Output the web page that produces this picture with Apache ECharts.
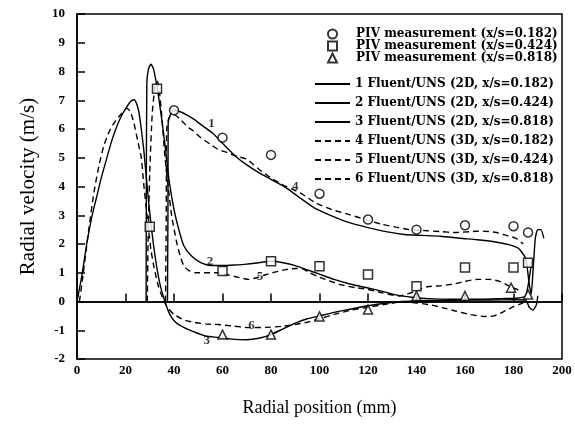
<!DOCTYPE html>
<html>
<head>
<meta charset="utf-8">
<script src="https://cdn.jsdelivr.net/npm/echarts@6/dist/echarts.min.js"></script>
<style>
  html, body { margin: 0; padding: 0; background: #fff; }
  #chart { width: 575px; height: 425px; }
</style>
</head>
<body>
<div id="chart"></div>
<script>
// PIV measurements, [radial position mm, radial velocity m/s]
var pivCircle = [[40, 6.65], [60, 5.7], [80, 5.1], [100, 3.75], [120, 2.85], [140, 2.5], [160, 2.65], [180, 2.62], [186, 2.4]]
var pivSquare = [[30, 2.6], [33, 7.4], [60, 1.06], [80, 1.4], [100, 1.23], [120, 0.94], [140, 0.53], [160, 1.18], [180, 1.18], [186, 1.35]]
var pivTriangle = [[60, -1.15], [80, -1.15], [100, -0.52], [120, -0.28], [140, 0.19], [160, 0.19], [179, 0.48], [186, 0.24]]

// Fluent/UNS 2D
var uns2d182 = [[37.3, 0], [37.5, 3], [37.6, 6.2], [38.5, 6.5], [40, 6.65], [42.5, 6.6], [45, 6.5], [48, 6.35], [52, 6.1], [56, 5.85], [60, 5.5], [65, 5.08], [70, 4.75], [75, 4.48], [80, 4.25], [86, 3.97], [92, 3.6], [98, 3.25], [105, 2.98], [112, 2.75], [120, 2.57], [128, 2.42], [135, 2.33], [142, 2.3], [150, 2.27], [158, 2.2], [165, 2.15], [172, 2.08], [178, 1.98], [182, 1.85], [185, 1.5], [186.5, 0.6], [187.3, 0.25], [188, 1.0], [189, 2.2], [190, 2.5], [191.3, 2.5], [192.5, 2.2]]
var uns2d424 = [[28.5, 0], [28.6, 4], [28.8, 7.6], [29.5, 8.1], [30.5, 8.25], [31.5, 8.1], [32.5, 7.7], [33.5, 7.2], [35, 6.3], [36.5, 5.3], [38, 4.2], [40, 3.2], [42, 2.5], [44, 1.95], [47, 1.6], [51, 1.35], [55, 1.25], [60, 1.25], [65, 1.27], [70, 1.3], [75, 1.35], [80, 1.4], [85, 1.35], [90, 1.25], [95, 1.1], [100, 0.95], [106, 0.77], [113, 0.6], [120, 0.47], [126, 0.35], [132, 0.22], [138, 0.15], [145, 0.1], [155, 0.08], [165, 0.08], [175, 0.1], [182, 0.12], [185, 0.2], [186.5, 0.8], [187.5, 1.4]]
var uns2d818 = [[0, 0], [2, 0.9], [4, 2.0], [6, 2.9], [8, 3.6], [10, 4.3], [12, 4.9], [14, 5.5], [16, 6.0], [18, 6.4], [20, 6.7], [22, 6.95], [23.5, 7.02], [24.5, 6.9], [25.5, 6.6], [26.5, 6.0], [27.5, 5.3], [28.5, 4.4], [29.5, 3.5], [30.5, 2.7], [31.5, 2.0], [32.5, 1.4], [33.5, 0.9], [34.5, 0.5], [35.5, 0.2], [36.5, -0.05], [37.5, -0.3], [39, -0.55], [41, -0.75], [44, -0.9], [48, -1.05], [53, -1.2], [58, -1.25], [63, -1.3], [70, -1.33], [75, -1.28], [80, -1.15], [85, -0.95], [90, -0.75], [95, -0.6], [100, -0.5], [106, -0.38], [113, -0.26], [120, -0.15], [127, -0.06], [134, 0.0], [142, 0.03], [150, 0.04], [160, 0.05], [170, 0.05], [180, 0.06], [185, 0.05], [186.5, -0.2], [188, -0.3], [189.5, -0.1], [190, 0.2]]

// Fluent/UNS 3D
var uns3d182 = [[36.5, 0], [36.8, 3], [37, 6.0], [38, 6.4], [40, 6.5], [43, 6.3], [46, 6.05], [48, 5.93], [51, 5.7], [55, 5.47], [58, 5.3], [62, 5.18], [66, 5.05], [70, 4.95], [75, 4.6], [80, 4.3], [85, 4.05], [89, 3.9], [93, 3.73], [98, 3.45], [105, 3.2], [112, 3.03], [119, 2.85], [126, 2.68], [132, 2.58], [137, 2.5], [143, 2.47], [150, 2.43], [156, 2.4], [162, 2.43], [167, 2.45], [173, 2.4], [177, 2.3], [181, 2.2], [184, 2.0]]
var uns3d424 = [[29, 0], [29.3, 2], [30, 4.5], [31, 6.5], [32.2, 7.5], [33.2, 7.65], [34, 7.3], [35, 6.4], [36.3, 5.0], [37.6, 4.0], [39, 3.0], [41, 2.1], [42.5, 1.6], [44, 1.25], [46, 1.08], [49, 1.0], [54, 1.0], [58, 1.0], [62, 0.93], [66, 0.85], [71, 0.77], [75, 0.85], [78, 0.94], [82, 1.03], [86, 1.11], [90, 1.15], [93, 1.14], [96, 1.0], [99, 0.88], [104, 0.72], [109, 0.58], [115, 0.48], [120, 0.42], [126, 0.3], [133, 0.19], [137, 0.28], [141, 0.42], [145, 0.52], [150, 0.55], [155, 0.6], [160, 0.7], [165, 0.77], [170, 0.77], [174, 0.71], [178, 0.55], [182, 0.4]]
var uns3d818 = [[1, 0], [2, 0.6], [3.5, 1.6], [5, 2.6], [7, 3.8], [9, 4.7], [11, 5.4], [13.5, 5.95], [16, 6.3], [18.5, 6.55], [20.5, 6.72], [22, 6.6], [23.5, 6.2], [25, 5.6], [26.5, 5.0], [27.5, 4.1], [28.5, 3.3], [29.5, 2.5], [30.5, 1.8], [31.5, 1.3], [32.5, 0.9], [33.5, 0.55], [34.5, 0.3], [35.5, 0.1], [36.5, -0.1], [38, -0.28], [40, -0.45], [43.8, -0.63], [48, -0.72], [53, -0.78], [58, -0.8], [64, -0.85], [71, -0.91], [78, -0.9], [85, -0.86], [90, -0.8], [95, -0.72], [100, -0.6], [106, -0.45], [113, -0.3], [120, -0.2], [127, -0.1], [134, -0.02], [140, -0.05], [146, -0.12], [151, -0.22], [156, -0.33], [162, -0.45], [168, -0.52], [172, -0.5], [176, -0.35], [180, -0.18], [184, -0.05]]

// curve numbers written next to the lines
var curveTags = [[55.5, 6.2, '1'], [54.8, 1.4, '2'], [53.5, -1.35, '3'], [90, 4.0, '4'], [75.5, 0.85, '5'], [72, -0.85, '6']]

var pivNames = ['PIV measurement (x/s=0.182)', 'PIV measurement (x/s=0.424)', 'PIV measurement (x/s=0.818)']
var unsNames = ['1 Fluent/UNS (2D, x/s=0.182)', '2 Fluent/UNS (2D, x/s=0.424)', '3 Fluent/UNS (2D, x/s=0.818)',
  '4 Fluent/UNS (3D, x/s=0.182)', '5 Fluent/UNS (3D, x/s=0.424)', '6 Fluent/UNS (3D, x/s=0.818)']

var chart = echarts.init(document.getElementById('chart'))

var legendText = { fontFamily: 'DejaVu Serif', fontWeight: 'bold', fontSize: 12, color: '#000' }
var tickFont = { fontFamily: 'Liberation Serif', fontWeight: 'bold', fontSize: 13, color: '#000' }

function pivSeries(name, data, symbol) {
  return {
    name: name,
    type: 'scatter',
    data: data,
    symbol: symbol,
    symbolSize: 9,
    itemStyle: { color: '#fff', borderColor: '#000', borderWidth: 1.5 },
    z: 5
  }
}

function unsSeries(name, data, dashed) {
  return {
    name: name,
    type: 'line',
    data: data,
    symbol: 'none',
    smooth: 0.2,
    lineStyle: { color: '#000', width: 1.4, type: dashed ? [6, 4] : 'solid' },
    itemStyle: { color: '#000' }
  }
}

chart.setOption({
  backgroundColor: '#fff',
  animation: false,
  grid: {
    left: 77, right: 13, top: 14, bottom: 66,
    show: true, borderColor: '#000', borderWidth: 1.5
  },
  legend: [{
    data: pivNames,
    orient: 'vertical',
    left: 322, top: 23,
    itemWidth: 9, itemHeight: 9, itemGap: 0,
    textStyle: Object.assign({ lineHeight: 11, padding: [0, 0, 0, 14] }, legendText)
  }, {
    data: unsNames,
    orient: 'vertical',
    left: 309, top: 73,
    itemWidth: 35, itemHeight: 12, itemGap: 7,
    // hide the dot ECharts puts on line legend icons, keep only the stroke
    itemStyle: { color: 'rgba(0,0,0,0)', borderColor: 'rgba(0,0,0,0)', borderWidth: 0 },
    textStyle: Object.assign({ lineHeight: 12 }, legendText)
  }],
  xAxis: {
    type: 'value',
    min: 0, max: 200, interval: 20,
    name: 'Radial position (mm)',
    nameLocation: 'middle',
    nameGap: 40,
    nameTextStyle: { fontFamily: 'Liberation Serif', fontSize: 18, color: '#000' },
    axisLine: { lineStyle: { color: '#000', width: 1.5 } },
    axisTick: { inside: true, length: 8, lineStyle: { color: '#000', width: 1.5 } },
    axisLabel: Object.assign({ margin: 5 }, tickFont),
    splitLine: { show: false }
  },
  yAxis: {
    type: 'value',
    min: -2, max: 10, interval: 1,
    name: 'Radial velocity (m/s)',
    nameLocation: 'middle',
    nameGap: 38,
    nameTextStyle: { fontFamily: 'Liberation Serif', fontSize: 21, color: '#000' },
    axisLine: { show: true, lineStyle: { color: '#000', width: 1.5 } },
    axisTick: { show: true, inside: true, length: 8, lineStyle: { color: '#000', width: 1.5 } },
    axisLabel: Object.assign({ margin: 12 }, tickFont),
    splitLine: { show: false }
  },
  series: [
    pivSeries(pivNames[0], pivCircle, 'circle'),
    pivSeries(pivNames[1], pivSquare, 'rect'),
    pivSeries(pivNames[2], pivTriangle, 'triangle'),
    unsSeries(unsNames[0], uns2d182, false),
    unsSeries(unsNames[1], uns2d424, false),
    unsSeries(unsNames[2], uns2d818, false),
    unsSeries(unsNames[3], uns3d182, true),
    unsSeries(unsNames[4], uns3d424, true),
    unsSeries(unsNames[5], uns3d818, true),
    {
      name: 'tags',
      type: 'scatter',
      data: curveTags,
      symbolSize: 0,
      silent: true,
      label: {
        show: true,
        position: 'inside',
        formatter: function(p) { return p.value[2] },
        fontFamily: 'Liberation Serif', fontWeight: 'bold', fontSize: 13, color: '#000'
      },
      markLine: {
        silent: true,
        symbol: 'none',
        label: { show: false },
        lineStyle: { color: '#000', width: 1.5, type: 'solid' },
        data: [{ yAxis: 0 }]
      }
    }
  ]
})
</script>
</body>
</html>
